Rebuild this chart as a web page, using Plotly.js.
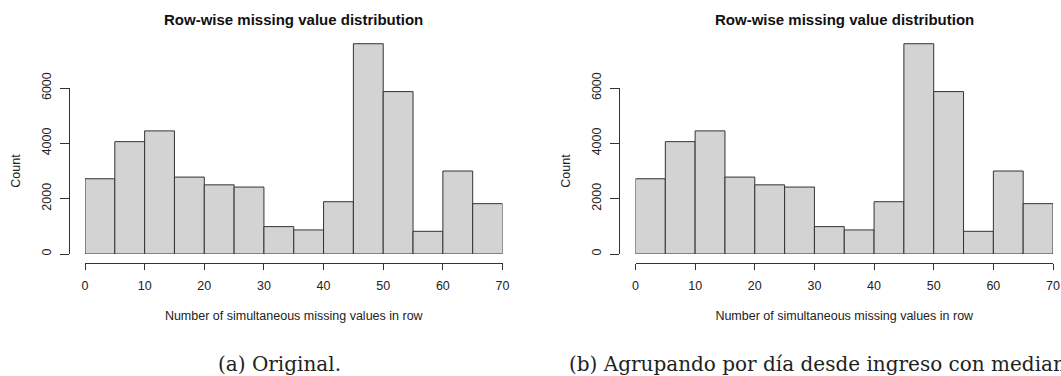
<!DOCTYPE html>
<html>
<head>
<meta charset="utf-8">
<script src="https://cdn.plot.ly/plotly-3.0.1.min.js"></script>
<style>html,body{margin:0;padding:0;background:#fff;}#chart{width:1061px;height:376px;}</style>
</head>
<body>
<div id="chart"></div>
<script>
// ---- data ----
const binEdges = [0, 5, 10, 15, 20, 25, 30, 35, 40, 45, 50, 55, 60, 65, 70];
const countsOriginal = [2720, 4060, 4450, 2780, 2500, 2420, 990, 870, 1890, 7600, 5870, 820, 3000, 1820];
const countsGrouped  = [2720, 4060, 4450, 2780, 2500, 2420, 990, 870, 1890, 7600, 5870, 820, 3000, 1820];
const xTickValues = [0, 10, 20, 30, 40, 50, 60, 70];
const yTickValues = [0, 2000, 4000, 6000];
const panelTitle = 'Row-wise missing value distribution';
const xTitle = 'Number of simultaneous missing values in row';
const yTitle = 'Count';
const captions = ['(a) Original.', '(b) Agrupando por día desde ingreso con mediana.'];

// ---- layout helpers ----
const W = 1061, H = 376;
const fx = p => p / W;
const fy = p => 1 - p / H;
const SANS = 'Liberation Sans, Arial, Helvetica, sans-serif';
const INK = '#222';
const LINE = '#333';

const centers = binEdges.slice(0, -1).map((e, i) => (e + binEdges[i + 1]) / 2);
const widths = binEdges.slice(0, -1).map((e, i) => binEdges[i + 1] - e);

const panelShift = 550.5;
const px0 = 85, px70 = 502.5;    // x pixel of 0 and 70
const py0 = 254, py6000 = 88;    // y pixel of 0 and 6000
const pyTop = 30;
const perUnitY = (py0 - py6000) / 6000;
const yMaxData = (py0 - pyTop) / perUnitY;

const data = [];
const layout = {
  width: W, height: H,
  margin: {l: 0, r: 0, t: 0, b: 0},
  paper_bgcolor: '#fff', plot_bgcolor: 'rgba(0,0,0,0)',
  showlegend: false,
  font: {family: SANS, size: 12.5, color: INK},
  annotations: [],
  bargap: 0
};

[countsOriginal, countsGrouped].forEach((counts, i) => {
  const dx = i * panelShift;
  const xk = i === 0 ? 'x' : 'x2';
  const yk = i === 0 ? 'y' : 'y2';
  const ydk = i === 0 ? 'y3' : 'y4';
  const xName = i === 0 ? 'xaxis' : 'xaxis2';
  const yName = i === 0 ? 'yaxis' : 'yaxis2';
  const ydName = i === 0 ? 'yaxis3' : 'yaxis4';

  // empty trace to attach the decorative y axis (drawn first, under the bars)
  data.push({type: 'scatter', x: [], y: [], xaxis: xk, yaxis: ydk, hoverinfo: 'skip', showlegend: false});
  data.push({
    type: 'bar', x: centers, y: counts, width: widths,
    xaxis: xk, yaxis: yk,
    marker: {color: '#d3d3d3', line: {color: LINE, width: 1}},
    hoverinfo: 'skip'
  });

  layout[xName] = {
    domain: [fx(px0 + dx), fx(px70 + dx)],
    range: [0, 70], anchor: 'free', position: fy(262.5),
    showline: true, linecolor: LINE, linewidth: 1,
    ticks: 'outside', ticklen: 6, tickcolor: LINE, tickwidth: 1,
    tickmode: 'array', tickvals: xTickValues,
    ticklabelstandoff: 5,
    tickfont: {family: SANS, size: 12.5, color: INK},
    showgrid: false, zeroline: false, fixedrange: true,
    title: {text: xTitle, font: {family: SANS, size: 12.5, color: INK}, standoff: 19}
  };
  layout[yName] = {
    domain: [fy(py0), fy(pyTop)], range: [0, yMaxData],
    anchor: xk, visible: false, fixedrange: true
  };
  layout[ydName] = {
    domain: [fy(py0), fy(py6000)], range: [0, 6000],
    anchor: 'free', position: fx(68.5 + dx),
    showline: true, linecolor: LINE, linewidth: 1,
    ticks: 'outside', ticklen: 9, tickcolor: LINE, tickwidth: 1,
    tickmode: 'array', tickvals: yTickValues, tickangle: -90,
    ticklabelstandoff: 4,
    tickfont: {family: SANS, size: 12.5, color: INK},
    showgrid: false, zeroline: false, fixedrange: true,
    title: {text: yTitle, font: {family: SANS, size: 12.5, color: INK}, standoff: 15}
  };

  layout.annotations.push({
    text: '<b>' + panelTitle + '</b>', xref: 'paper', yref: 'paper',
    x: fx((px0 + px70) / 2 + dx), y: fy(19.5), xanchor: 'center', yanchor: 'middle',
    showarrow: false, font: {family: SANS, size: 15, color: '#111'}
  });
  layout.annotations.push({
    text: captions[i], xref: 'paper', yref: 'paper',
    x: fx(i === 0 ? 216 : 567), y: fy(363.5), xanchor: 'left', yanchor: 'middle',
    showarrow: false, font: {family: 'DejaVu Serif, serif', size: 20, color: '#222'}
  });
});

Plotly.newPlot('chart', data, layout, {staticPlot: true, displayModeBar: false});
</script>
</body>
</html>
